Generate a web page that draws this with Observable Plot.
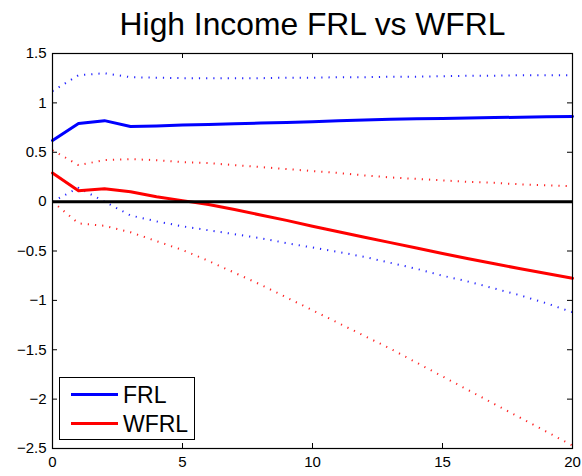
<!DOCTYPE html>
<html><head><meta charset="utf-8">
<script src="https://cdn.jsdelivr.net/npm/d3@7"></script>
<script src="https://cdn.jsdelivr.net/npm/@observablehq/plot@0.6"></script>
<style>
body{margin:0;background:#fff;}
#wrap{position:relative;width:582px;height:476px;font-family:"Liberation Sans",Arial,sans-serif;}
#legend{position:absolute;left:59px;top:377px;width:134px;height:61px;border:1px solid #000;background:#fff;}
.row{position:absolute;left:0;height:28px;width:134px;}
.row .sw{position:absolute;left:11px;width:47px;height:3px;top:12px;}
.row .lb{position:absolute;left:63px;top:0;font-size:23px;line-height:28px;color:#000;}
</style>
</head><body>
<div id="wrap"></div>
<script>
// ---- data ----
const steps = [0,1,2,3,4,5,6,7,8,9,10,11,12,13,14,15,16,17,18,19,20];
const frl      = [0.62,0.79,0.82,0.76,0.765,0.775,0.782,0.788,0.795,0.802,0.81,0.818,0.826,0.833,0.838,0.843,0.847,0.851,0.855,0.859,0.862];
const frlUpper = [1.12,1.28,1.30,1.26,1.255,1.25,1.25,1.25,1.25,1.255,1.255,1.26,1.26,1.265,1.265,1.27,1.275,1.275,1.28,1.28,1.28];
const frlLower = [0.0,0.14,0.0,-0.14,-0.20,-0.25,-0.29,-0.33,-0.37,-0.42,-0.465,-0.51,-0.56,-0.62,-0.68,-0.75,-0.81,-0.88,-0.95,-1.03,-1.12];
const wfrl      = [0.29,0.11,0.13,0.10,0.05,0.01,-0.03,-0.08,-0.135,-0.19,-0.25,-0.305,-0.36,-0.415,-0.47,-0.525,-0.578,-0.63,-0.68,-0.728,-0.775];
const wfrlUpper = [0.52,0.37,0.42,0.43,0.42,0.40,0.39,0.37,0.35,0.33,0.31,0.29,0.265,0.245,0.23,0.215,0.20,0.19,0.175,0.165,0.155];
const wfrlLower = [0.0,-0.22,-0.245,-0.31,-0.40,-0.49,-0.60,-0.72,-0.84,-0.97,-1.10,-1.23,-1.36,-1.49,-1.63,-1.77,-1.91,-2.05,-2.19,-2.33,-2.47];
const seriesNames = ["FRL","WFRL"];
const seriesColors = ["#0000ff","#ff0000"];
const xTicks = [0,5,10,15,20];
const yTicks = [-2.5,-2,-1.5,-1,-0.5,0,0.5,1,1.5];
const title = "High Income FRL vs WFRL";

// ---- build tables ----
function rowsOf(name, color, kind, vals){ return steps.map((s,i)=>({step:s, value:vals[i], series:name+"-"+kind, color})); }
const solidRows = [...rowsOf("FRL",seriesColors[0],"mid",frl), ...rowsOf("WFRL",seriesColors[1],"mid",wfrl)];
const bandRows = [
  ...rowsOf("FRL",seriesColors[0],"up",frlUpper), ...rowsOf("FRL",seriesColors[0],"lo",frlLower),
  ...rowsOf("WFRL",seriesColors[1],"up",wfrlUpper), ...rowsOf("WFRL",seriesColors[1],"lo",wfrlLower)
];

const W=582, H=476, mL=52, mR=10, mT=53, mB=28;
const fw = W-mL-mR, fh = H-mT-mB, tk = 5;
const fmt = d => (d<0 ? "\u2212"+Math.abs(d) : String(d));

const chart = Plot.plot({
  width: W, height: H, marginLeft: mL, marginRight: mR, marginTop: mT, marginBottom: mB,
  style: {fontFamily: "'Liberation Sans', Arial, sans-serif", fontSize: "15px", background: "white", color: "black", overflow: "visible"},
  x: {domain: [0,20], label: null},
  y: {domain: [-2.5,1.5], label: null},
  marks: [
    Plot.axisX(xTicks, {anchor: "bottom", tickSize: 0, tickPadding: 8, tickFormat: fmt, label: null, fontSize: 15}),
    Plot.axisY(yTicks, {anchor: "left", tickSize: 0, tickPadding: 6, tickFormat: fmt, label: null, fontSize: 15}),
    Plot.line(bandRows, {x: "step", y: "value", z: "series", stroke: "color", strokeWidth: 2, strokeLinecap: "butt", strokeDasharray: "1.2,6", strokeOpacity: 0.85}),
    Plot.line(solidRows, {x: "step", y: "value", z: "series", stroke: "color", strokeWidth: 3}),
    Plot.ruleY([0], {stroke: "black", strokeWidth: 3}),
    Plot.tickX(xTicks, {x: d=>d, insetTop: fh-tk, stroke: "black"}),
    Plot.tickX(xTicks, {x: d=>d, insetBottom: fh-tk, stroke: "black"}),
    Plot.tickY(yTicks, {y: d=>d, insetRight: fw-tk, stroke: "black"}),
    Plot.tickY(yTicks, {y: d=>d, insetLeft: fw-tk, stroke: "black"}),
    Plot.frame({stroke: "black", strokeWidth: 1.2}),
    Plot.text([title], {text: d=>d, frameAnchor: "top", lineAnchor: "bottom", dy: -19, fontSize: 31.8, fill: "black"})
  ]
});
const wrap = document.getElementById("wrap");
wrap.appendChild(chart);

// legend
const leg = document.createElement("div");
leg.id = "legend";
seriesNames.forEach((n,i)=>{
  const r = document.createElement("div"); r.className="row"; r.style.top = (3 + i*28.5)+"px";
  const sw = document.createElement("div"); sw.className="sw"; sw.style.background = seriesColors[i];
  const lb = document.createElement("div"); lb.className="lb"; lb.textContent = n;
  r.appendChild(sw); r.appendChild(lb); leg.appendChild(r);
});
wrap.appendChild(leg);
</script>
</body></html>
